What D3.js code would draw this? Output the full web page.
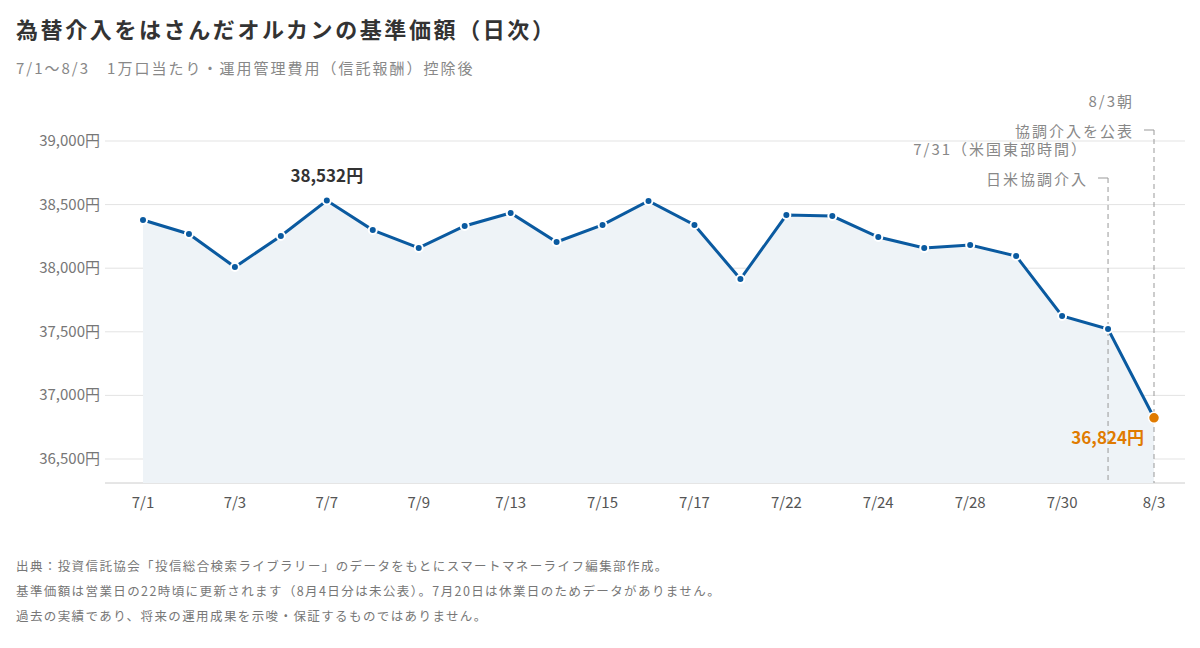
<!DOCTYPE html><html><head><meta charset="utf-8"><script src="https://cdn.jsdelivr.net/npm/d3@7"></script>
<style>body{margin:0;background:#fff;font-family:"Noto Sans CJK JP","Noto Sans",sans-serif}</style></head><body><svg id="c" width="1200" height="648"></svg><script>
const dates=["7/1","7/2","7/3","7/6","7/7","7/8","7/9","7/10","7/13","7/14","7/15","7/16","7/17","7/21","7/22","7/23","7/24","7/27","7/28","7/29","7/30","7/31","8/3"];
const values=[38379,38269,38009,38253,38532,38300,38159,38332,38434,38206,38340,38529,38340,37915,38418,38410,38245,38159,38182,38096,37624,37522,36824];
const yTicks=[36500,37000,37500,38000,38500,39000];
const svg=d3.select("#c");
const x=d3.scalePoint().domain(dates).range([143,1154]);
const y=d3.scaleLinear().domain([36500,39000]).range([459,141]);
const fmt=d3.format(",");
svg.append("text").attr("x",16).attr("y",38).attr("font-size",22).attr("letter-spacing",2.6).attr("font-weight",700).attr("fill","#333").text("為替介入をはさんだオルカンの基準価額（日次）");
svg.append("text").attr("x",16).attr("y",74).attr("font-size",15).attr("letter-spacing",2).attr("fill","#888").text("7/1〜8/3　1万口当たり・運用管理費用（信託報酬）控除後");
yTicks.forEach(t=>{svg.append("line").attr("x1",105).attr("x2",1185).attr("y1",y(t)).attr("y2",y(t)).attr("stroke","#e3e3e3");
svg.append("text").attr("x",100).attr("y",y(t)+5).attr("text-anchor","end").attr("font-size",15).attr("fill","#777").text(fmt(t)+"円");});
svg.append("line").attr("x1",105).attr("x2",1185).attr("y1",483).attr("y2",483).attr("stroke","#ccc");
dates.forEach((d,i)=>{if(i%2==0)svg.append("text").attr("x",x(d)).attr("y",508).attr("text-anchor","middle").attr("font-size",15).attr("fill","#555").text(d);});
svg.append("path").datum(values).attr("fill","#eef3f7").attr("d",d3.area().x((v,i)=>x(dates[i])).y0(483).y1(v=>y(v)));
[[21,178,"7/31（米国東部時間）","日米協調介入"],[22,130,"8/3朝","協調介入を公表"]].forEach(([i,yy,l1,l2])=>{
 const xx=x(dates[i]);
 svg.append("line").attr("x1",xx).attr("x2",xx).attr("y1",yy).attr("y2",483).attr("stroke","#999").attr("stroke-dasharray","5,4");
 svg.append("line").attr("x1",xx-10).attr("x2",xx).attr("y1",yy).attr("y2",yy).attr("stroke","#999");
 svg.append("text").attr("x",xx-20).attr("y",yy-23).attr("text-anchor","end").attr("font-size",15).attr("letter-spacing",2).attr("fill","#888").text(l1);
 svg.append("text").attr("x",xx-20).attr("y",yy+7).attr("text-anchor","end").attr("font-size",15).attr("letter-spacing",2).attr("fill","#888").text(l2);
});
svg.append("path").datum(values).attr("fill","none").attr("stroke","#0a5aa0").attr("stroke-width",3).attr("d",d3.line().x((v,i)=>x(dates[i])).y(v=>y(v)));
values.forEach((v,i)=>{const last=i==values.length-1;
svg.append("circle").attr("cx",x(dates[i])).attr("cy",y(v)).attr("r",last?5.5:4).attr("fill",last?"#e07b00":"#0a5aa0").attr("stroke","#fff").attr("stroke-width",last?1.5:2);});
svg.append("text").attr("x",x(dates[4])).attr("y",y(values[4])-19).attr("text-anchor","middle").attr("font-size",17).attr("font-weight",700).attr("fill","#333").text(fmt(values[4])+"円");
svg.append("text").attr("x",1144).attr("y",y(values[22])+26).attr("text-anchor","end").attr("font-size",17).attr("font-weight",700).attr("fill","#e07b00").text(fmt(values[22])+"円");
["出典：投資信託協会「投信総合検索ライブラリー」のデータをもとにスマートマネーライフ編集部作成。","基準価額は営業日の22時頃に更新されます（8月4日分は未公表）。7月20日は休業日のためデータがありません。","過去の実績であり、将来の運用成果を示唆・保証するものではありません。"].forEach((t,i)=>
svg.append("text").attr("x",16).attr("y",571+i*25).attr("font-size",12.5).attr("letter-spacing",1.4).attr("fill","#777").text(t));
</script></body></html>
